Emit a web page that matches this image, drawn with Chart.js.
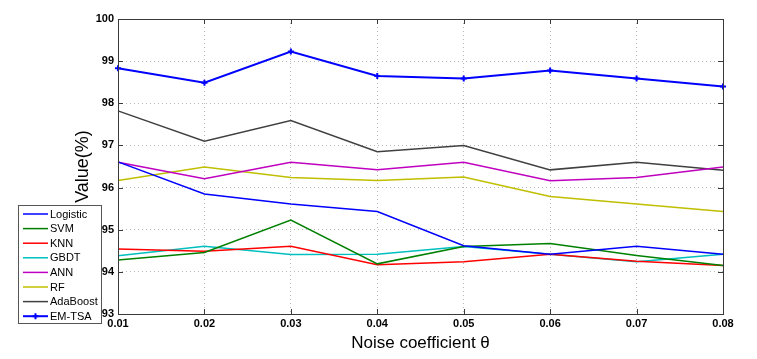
<!DOCTYPE html>
<html>
<head>
<meta charset="utf-8">
<script src="https://cdn.jsdelivr.net/npm/chart.js@4/dist/chart.umd.min.js"></script>
<style>
html,body{margin:0;padding:0;background:#fff;}
#wrap{position:relative;width:757px;height:359px;}
</style>
</head>
<body>
<div id="wrap"><canvas id="c" width="757" height="359"></canvas></div>
<script>
const categories = ['0.01','0.02','0.03','0.04','0.05','0.06','0.07','0.08'];
const yTicks = [93,94,95,96,97,98,99,100];
const logistic = [96.61,95.85,95.61,95.43,94.62,94.42,94.61,94.42];
const svm      = [94.28,94.46,95.23,94.19,94.60,94.67,94.39,94.15];
const knn      = [94.54,94.49,94.61,94.17,94.24,94.42,94.25,94.15];
const gbdt     = [94.38,94.61,94.41,94.42,94.60,94.42,94.24,94.42];
const ann      = [96.60,96.21,96.60,96.42,96.60,96.16,96.24,96.49];
const rf       = [96.17,96.49,96.24,96.17,96.25,95.79,95.61,95.43];
const adaboost = [97.82,97.10,97.59,96.85,97.00,96.42,96.60,96.41];
const emtsa    = [98.83,98.49,99.23,98.65,98.59,98.78,98.59,98.40];

const FONT = '"Liberation Sans", Arial, sans-serif';

function ds(label, data, color, width, marker) {
  return {
    label, data, borderColor: color, backgroundColor: color,
    borderWidth: width, tension: 0,
    pointRadius: marker ? 3 : 0, pointStyle: 'cross',
    pointBorderWidth: marker ? 2 : 0, pointHoverRadius: marker ? 3 : 0
  };
}

const frame = {
  id: 'frame',
  afterDraw(chart) {
    const {ctx, chartArea: a, scales: {x, y}} = chart;
    ctx.save();
    ctx.strokeStyle = '#3a3a3a';
    ctx.lineWidth = 1;
    ctx.strokeRect(Math.round(a.left) + 0.5, Math.round(a.top) + 0.5,
                   Math.round(a.right - a.left), Math.round(a.bottom - a.top));
    ctx.beginPath();
    categories.forEach((c, i) => {
      const px = Math.round(x.getPixelForValue(i)) + 0.5;
      ctx.moveTo(px, a.bottom); ctx.lineTo(px, a.bottom - 5);
      ctx.moveTo(px, a.top); ctx.lineTo(px, a.top + 5);
    });
    yTicks.forEach(v => {
      const py = Math.round(y.getPixelForValue(v)) + 0.5;
      ctx.moveTo(a.left, py); ctx.lineTo(a.left + 5, py);
      ctx.moveTo(a.right, py); ctx.lineTo(a.right - 5, py);
    });
    ctx.stroke();

    // legend box
    const x0 = 18, y0 = 205, w = 83, h = 118;
    ctx.fillStyle = '#fff';
    ctx.fillRect(x0, y0, w, h);
    ctx.strokeStyle = '#555';
    ctx.strokeRect(x0 + 0.5, y0 + 0.5, w, h);
    chart.data.datasets.forEach((d, i) => {
      const yy = y0 + 9 + i * 14.6;
      ctx.strokeStyle = d.borderColor;
      ctx.lineWidth = d.borderWidth;
      ctx.beginPath(); ctx.moveTo(23, yy); ctx.lineTo(48, yy); ctx.stroke();
      if (d.pointRadius > 0) {
        ctx.lineWidth = 2;
        ctx.beginPath();
        ctx.moveTo(35.5, yy - 3); ctx.lineTo(35.5, yy + 3);
        ctx.moveTo(32.5, yy); ctx.lineTo(38.5, yy);
        ctx.stroke();
      }
      ctx.fillStyle = '#000';
      ctx.font = '11px ' + FONT;
      ctx.textBaseline = 'middle';
      ctx.textAlign = 'left';
      ctx.fillText(d.label, 50, yy + 0.5);
    });
    ctx.restore();
  }
};

new Chart(document.getElementById('c'), {
  type: 'line',
  data: {
    labels: categories,
    datasets: [
      ds('Logistic', logistic, '#0000ff', 1.5, false),
      ds('SVM', svm, '#008000', 1.5, false),
      ds('KNN', knn, '#ff0000', 1.5, false),
      ds('GBDT', gbdt, '#00bfbf', 1.5, false),
      ds('ANN', ann, '#bf00bf', 1.5, false),
      ds('RF', rf, '#bfbf00', 1.5, false),
      ds('AdaBoost', adaboost, '#404040', 1.5, false),
      ds('EM-TSA', emtsa, '#0000ff', 2, true)
    ]
  },
  options: {
    responsive: false,
    animation: false,
    events: [],
    layout: { padding: { left: 0, right: 34, top: 19, bottom: 0 } },
    plugins: { legend: { display: false }, tooltip: { enabled: false } },
    scales: {
      x: {
        type: 'category',
        offset: false,
        grid: { color: '#b8b8b8', drawTicks: false, lineWidth: 1 },
        border: { display: false, dash: [1, 3] },
        ticks: { color: '#000', font: { family: FONT, size: 11, weight: 'bold' }, padding: 3, maxRotation: 0, autoSkip: false },
        title: { display: true, text: 'Noise coefficient θ', color: '#000', font: { family: FONT, size: 17 }, padding: { top: 0, bottom: 5 } },
        afterFit(s) { s.height = 45; }
      },
      y: {
        min: 93, max: 100,
        afterBuildTicks(s) { s.ticks = yTicks.map(v => ({ value: v })); },
        grid: { color: '#b8b8b8', drawTicks: false, lineWidth: 1 },
        border: { display: false, dash: [1, 3] },
        ticks: { color: '#000', font: { family: FONT, size: 11, weight: 'bold' }, padding: 4 },
        title: { display: true, text: 'Value(%)', color: '#000', font: { family: FONT, size: 18 }, padding: { top: 72, bottom: 0 } },
        afterFit(s) { s.width = 118; }
      }
    }
  },
  plugins: [frame]
});
</script>
</body>
</html>
